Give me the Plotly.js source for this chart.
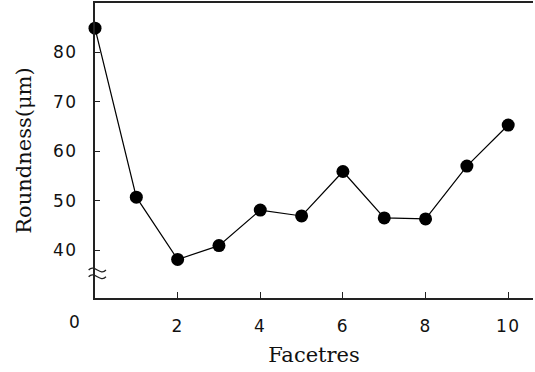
<!DOCTYPE html>
<html>
<head>
<meta charset="utf-8">
<script src="https://cdn.plot.ly/plotly-3.0.1.min.js"></script>
<style>
html,body{margin:0;padding:0;background:#fff;}
#chart{width:535px;height:372px;}
.xtick text, .ytick text, .annotation-text {letter-spacing: 1.5px;}
</style>
</head>
<body>
<div id="chart"></div>
<script>
// Data
const facetres = [0, 1, 2, 3, 4, 5, 6, 7, 8, 9, 10];
const roundness = [84.9, 50.7, 38.1, 40.9, 48.1, 46.9, 55.9, 46.5, 46.3, 57.0, 65.3];
const xTickVals = [2, 4, 6, 8, 10];
const yTickVals = [40, 50, 60, 70, 80];
const xTitle = 'Facetres';
const yTitle = 'Roundness(μm)';
const cornerLabel = '0';

const trace = {
  x: facetres,
  y: roundness,
  type: 'scatter',
  mode: 'lines+markers',
  line: {color: '#000', width: 1.2},
  marker: {color: '#000', size: 13},
  cliponaxis: false,
  showlegend: false
};

// break mark ("≈") on the y axis, in paper coordinates
function tilde(x0, x1, y, a) {
  const w = x1 - x0;
  return 'M ' + x0 + ',' + y + ' C ' + (x0 + w / 3) + ',' + (y + a) + ' ' +
    (x0 + 2 * w / 3) + ',' + (y - a) + ' ' + x1 + ',' + y;
}

const layout = {
  width: 535,
  height: 372,
  margin: {l: 95, r: 2, t: 3, b: 74},
  paper_bgcolor: '#fff',
  plot_bgcolor: '#fff',
  showlegend: false,
  xaxis: {
    range: [0, 10.6],
    tickvals: xTickVals,
    ticktext: xTickVals.map(String),
    ticks: 'inside',
    ticklen: 6,
    tickwidth: 1,
    tickcolor: '#222',
    showline: true,
    linewidth: 2,
    linecolor: '#222',
    mirror: true,
    showgrid: false,
    zeroline: false,
    ticklabelstandoff: 12,
    tickfont: {family: 'DejaVu Sans', size: 17, color: '#111'},
    title: {text: xTitle, font: {family: 'DejaVu Serif', size: 21, color: '#111'}, standoff: 12}
  },
  yaxis: {
    range: [30.3, 90],
    tickvals: yTickVals,
    ticktext: yTickVals.map(String),
    ticks: 'inside',
    ticklen: 5,
    tickwidth: 1,
    tickcolor: '#222',
    showline: true,
    linewidth: 2,
    linecolor: '#222',
    showgrid: false,
    zeroline: false,
    ticklabelstandoff: 12,
    tickfont: {family: 'DejaVu Sans', size: 17, color: '#111'},
    title: {text: yTitle, font: {family: 'DejaVu Serif', size: 21, color: '#111'}, standoff: 16}
  },
  annotations: [{
    text: cornerLabel,
    xref: 'paper', yref: 'paper',
    x: -0.046, y: -0.081,
    xanchor: 'center', yanchor: 'middle',
    showarrow: false,
    font: {family: 'DejaVu Sans', size: 17, color: '#111'}
  }],
  shapes: [
    {type: 'path', xref: 'paper', yref: 'paper', path: tilde(-0.0145, 0.025, 0.095, 0.022), line: {color: '#222', width: 1.3}},
    {type: 'path', xref: 'paper', yref: 'paper', path: tilde(-0.0145, 0.025, 0.072, 0.022), line: {color: '#222', width: 1.3}}
  ]
};

Plotly.newPlot('chart', [trace], layout, {staticPlot: true, displayModeBar: false});
</script>
</body>
</html>
